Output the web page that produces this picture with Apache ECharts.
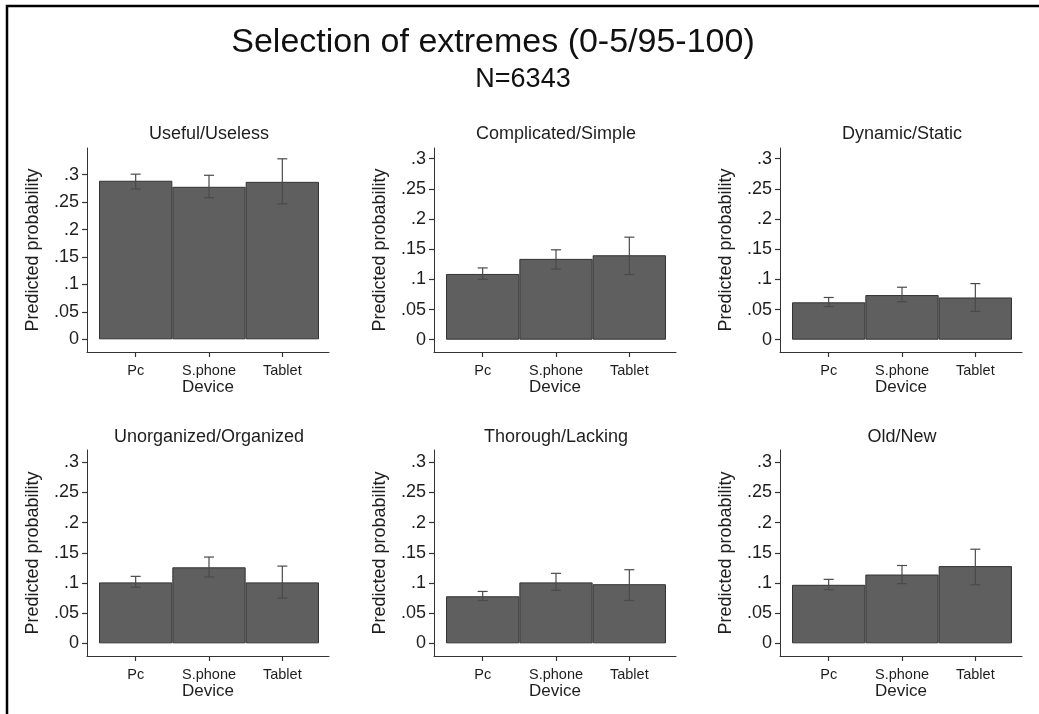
<!DOCTYPE html>
<html>
<head>
<meta charset="utf-8">
<script src="https://cdn.jsdelivr.net/npm/echarts@6/dist/echarts.min.js"></script>
<style>
html,body{margin:0;padding:0;background:#fff;}
#chart{width:1039px;height:714px;}
</style>
</head>
<body>
<div id="chart"></div>
<script>
// ---------- data ----------
const categories = ['Pc', 'S.phone', 'Tablet'];
const panelTitles = ['Useful/Useless', 'Complicated/Simple', 'Dynamic/Static',
                     'Unorganized/Organized', 'Thorough/Lacking', 'Old/New'];
const mainTitle = 'Selection of extremes (0-5/95-100)';
const subTitle = 'N=6343';
const xAxisTitle = 'Device';
const yAxisTitle = 'Predicted probability';

const usefulMean = [0.289, 0.278, 0.287];
const usefulLow  = [0.274, 0.258, 0.247];
const usefulHigh = [0.301, 0.299, 0.329];

const complicatedMean = [0.109, 0.134, 0.140];
const complicatedLow  = [0.100, 0.117, 0.108];
const complicatedHigh = [0.119, 0.149, 0.170];

const dynamicMean = [0.062, 0.074, 0.070];
const dynamicLow  = [0.055, 0.063, 0.047];
const dynamicHigh = [0.070, 0.087, 0.093];

const unorganizedMean = [0.101, 0.126, 0.101];
const unorganizedLow  = [0.093, 0.110, 0.075];
const unorganizedHigh = [0.111, 0.143, 0.128];

const thoroughMean = [0.078, 0.101, 0.098];
const thoroughLow  = [0.071, 0.088, 0.071];
const thoroughHigh = [0.086, 0.116, 0.122];

const oldNewMean = [0.097, 0.114, 0.128];
const oldNewLow  = [0.089, 0.099, 0.097];
const oldNewHigh = [0.106, 0.129, 0.156];

const yTickValues = [0, 0.05, 0.1, 0.15, 0.2, 0.25, 0.3];
const yTickLabels = ['0', '.05', '.1', '.15', '.2', '.25', '.3'];

// ---------- layout ----------
const FONT = '"Liberation Sans", Arial, Helvetica, sans-serif';
const TXT = '#1e1e1e';
const AX = '#333333';
const panels = [
  {mean: usefulMean, low: usefulLow, high: usefulHigh, ymin: -0.0231, ymax: 0.3487},
  {mean: complicatedMean, low: complicatedLow, high: complicatedHigh, ymin: -0.0204, ymax: 0.3178},
  {mean: dynamicMean, low: dynamicLow, high: dynamicHigh, ymin: -0.0204, ymax: 0.3178},
  {mean: unorganizedMean, low: unorganizedLow, high: unorganizedHigh, ymin: -0.021, ymax: 0.3204},
  {mean: thoroughMean, low: thoroughLow, high: thoroughHigh, ymin: -0.021, ymax: 0.3204},
  {mean: oldNewMean, low: oldNewLow, high: oldNewHigh, ymin: -0.021, ymax: 0.3204}
];
const colLeft = [87, 434, 780];
const rowTop = [148, 450];
const rowHeight = [204, 206];
const gridWidth = 242;
const xMin = 0.5 - 12 / 73.3;
const xMax = 3.5 + 10 / 73.3;
const subTitleY = [134, 437];

const grids = [], xAxes = [], yAxes = [], series = [];
const titles = [
  {text: mainTitle, left: 493, top: 43, textAlign: 'center', textVerticalAlign: 'middle', padding: 0,
   textStyle: {fontFamily: FONT, fontSize: 34, fontWeight: 'normal', color: '#111'}},
  {text: subTitle, left: 523, top: 80, textAlign: 'center', textVerticalAlign: 'middle', padding: 0,
   textStyle: {fontFamily: FONT, fontSize: 27, fontWeight: 'normal', color: '#111'}}
];
const xTickPos = categories.map((c, i) => i + 1);

panels.forEach((p, k) => {
  const r = Math.floor(k / 3), c = k % 3;
  grids.push({left: colLeft[c], top: rowTop[r], width: gridWidth, height: rowHeight[r], containLabel: false});
  titles.push({text: panelTitles[k], left: colLeft[c] + gridWidth / 2 + 1, top: subTitleY[r],
    textAlign: 'center', textVerticalAlign: 'middle', padding: 0,
    textStyle: {fontFamily: FONT, fontSize: 18, fontWeight: 'normal', color: TXT}});
  xAxes.push({
    gridIndex: k, type: 'value', min: xMin, max: xMax,
    name: xAxisTitle, nameLocation: 'middle', nameGap: 27,
    nameTextStyle: {fontFamily: FONT, fontSize: 17, color: TXT},
    axisLine: {show: true, onZero: false, lineStyle: {color: AX, width: 1}},
    axisTick: {show: true, length: 5, customValues: xTickPos, lineStyle: {color: AX, width: 1.2}},
    axisLabel: {show: true, customValues: xTickPos, margin: 11,
      fontFamily: FONT, fontSize: 14.5, color: TXT,
      formatter: v => categories[Math.round(v) - 1] || ''},
    splitLine: {show: false}
  });
  yAxes.push({
    gridIndex: k, type: 'value', min: p.ymin, max: p.ymax,
    name: yAxisTitle, nameLocation: 'middle', nameGap: 45,
    nameTextStyle: {fontFamily: FONT, fontSize: 18, color: TXT},
    axisLine: {show: true, onZero: false, lineStyle: {color: AX, width: 1}},
    axisTick: {show: true, length: 5, customValues: yTickValues, lineStyle: {color: AX, width: 1.2}},
    axisLabel: {show: true, customValues: yTickValues, margin: 8,
      fontFamily: FONT, fontSize: 18, color: TXT,
      formatter: v => {
        const i = yTickValues.findIndex(t => Math.abs(t - v) < 1e-6);
        return i >= 0 ? yTickLabels[i] : '';
      }},
    splitLine: {show: false}
  });
  series.push({
    type: 'bar', xAxisIndex: k, yAxisIndex: k,
    barWidth: '100%',
    data: p.mean.map((v, i) => [i + 1, v]),
    itemStyle: {color: '#5f5f5f', borderColor: '#333', borderWidth: 1},
    silent: true, animation: false
  });
  series.push({
    type: 'custom', xAxisIndex: k, yAxisIndex: k,
    data: p.mean.map((v, i) => [i + 1, p.low[i], p.high[i]]),
    encode: {x: 0, y: [1, 2]},
    renderItem: (params, api) => {
      const x = api.value(0);
      const a = api.coord([x, api.value(1)]);
      const b = api.coord([x, api.value(2)]);
      const hw = 5;
      const st = {stroke: '#4a4a4a', lineWidth: 1.2};
      return {type: 'group', children: [
        {type: 'line', shape: {x1: a[0], y1: a[1], x2: b[0], y2: b[1]}, style: st},
        {type: 'line', shape: {x1: a[0] - hw, y1: a[1], x2: a[0] + hw, y2: a[1]}, style: st},
        {type: 'line', shape: {x1: b[0] - hw, y1: b[1], x2: b[0] + hw, y2: b[1]}, style: st}
      ]};
    },
    z: 5, silent: true, animation: false
  });
});

const chart = echarts.init(document.getElementById('chart'), null, {renderer: 'canvas'});
chart.setOption({
  backgroundColor: '#ffffff',
  animation: false,
  title: titles,
  grid: grids,
  xAxis: xAxes,
  yAxis: yAxes,
  series: series,
  graphic: [{
    type: 'polyline', silent: true,
    shape: {points: [[7, 714], [7, 6], [1039, 6]]},
    style: {stroke: '#000', lineWidth: 2.5, fill: null}
  }]
});
</script>
</body>
</html>
